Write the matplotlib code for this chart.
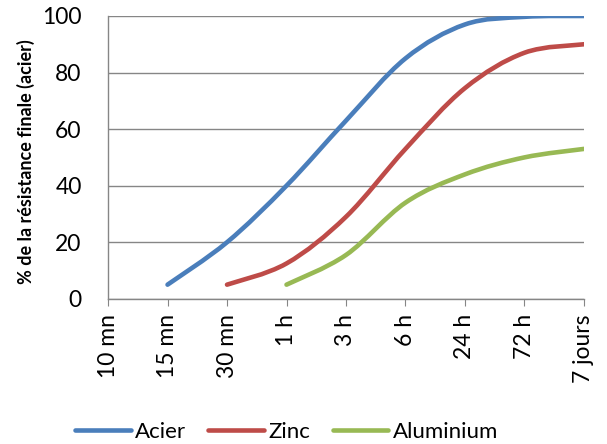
import numpy as np
import matplotlib.pyplot as plt
from matplotlib.path import Path
from matplotlib.patches import PathPatch
from matplotlib.lines import Line2D

plt.rcParams['font.family'] = ['Lato', 'DejaVu Sans']

durees = ["10 mn", "15 mn", "30 mn", "1 h", "3 h", "6 h", "24 h", "72 h", "7 jours"]
acier = [None, 5, 20, 40, 63, 85, 97, 99.7, 100]
zinc = [None, None, 5, 12.5, 29, 53, 74.5, 87, 90]
aluminium = [None, None, None, 5, 15.5, 34, 44, 50, 53]

series = [("Acier", acier, "#4A7EBB"),
          ("Zinc", zinc, "#BE4B48"),
          ("Aluminium", aluminium, "#98B954")]


def courbe_lisse(valeurs):
    # lissage type Excel : bezier avec points de controle a 1/6
    pts = [(i, v) for i, v in enumerate(valeurs) if v is not None]
    pts = np.array(pts, dtype=float)
    n = len(pts)
    verts = [pts[0]]
    codes = [Path.MOVETO]
    for i in range(n - 1):
        p0 = pts[i - 1] if i > 0 else pts[i]
        p1 = pts[i]
        p2 = pts[i + 1]
        p3 = pts[i + 2] if i + 2 < n else pts[i + 1]
        c1 = p1 + (p2 - p0) / 6.0
        c2 = p2 - (p3 - p1) / 6.0
        verts += [c1, c2, p2]
        codes += [Path.CURVE4] * 3
    return Path(verts, codes)


fig = plt.figure(figsize=(6.07, 4.44), dpi=100)
ax = fig.add_axes([0.178, 0.327, 0.784, 0.637])

for nom, vals, coul in series:
    patch = PathPatch(courbe_lisse(vals), facecolor="none", edgecolor=coul,
                      lw=3.3, capstyle="round", joinstyle="round", zorder=3)
    ax.add_patch(patch)

ax.set_xlim(0, len(durees) - 1)
ax.set_ylim(0, 100)
ax.set_yticks(range(0, 101, 20))
ax.set_xticks(range(len(durees)))
ax.set_xticklabels(durees, rotation=90, va="top", ha="center")
ax.tick_params(axis="x", length=5, color="#868686", labelsize=16.5, pad=6)
ax.tick_params(axis="y", length=0, labelsize=16.5, pad=19)
ax.grid(axis="y", color="#868686", lw=1)
ax.set_axisbelow(True)
for s in ["top", "right"]:
    ax.spines[s].set_visible(False)
for s in ["left", "bottom"]:
    ax.spines[s].set_color("#868686")
    ax.spines[s].set_linewidth(1)

fig.text(0.043, 0.635, "% de la résistance finale (acier)", rotation=90,
         fontsize=13, fontweight="bold", ha="center", va="center")

handles = [Line2D([], [], color=c, lw=3.3, solid_capstyle="round") for _, _, c in series]
fig.legend(handles, [n for n, _, _ in series], loc="center",
           bbox_to_anchor=(0.472, 0.027), ncol=3, frameon=False, fontsize=16,
           handlelength=2.5, handletextpad=0.2, columnspacing=1.0,
           borderpad=0, borderaxespad=0)

fig.savefig("out.png", dpi=100)
